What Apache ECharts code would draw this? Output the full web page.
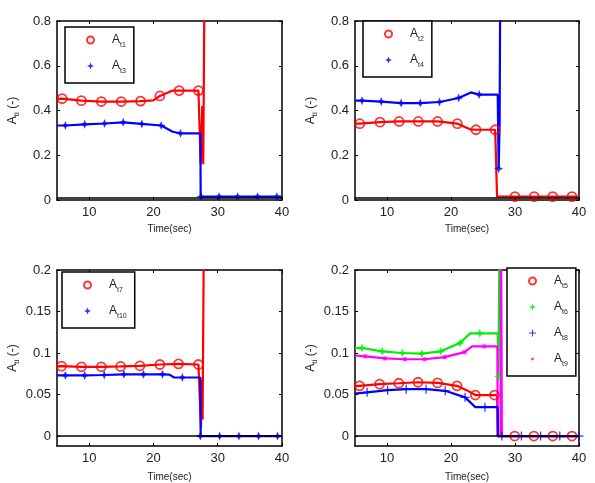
<!DOCTYPE html>
<html>
<head>
<meta charset="utf-8">
<script src="https://cdn.jsdelivr.net/npm/echarts@6/dist/echarts.min.js"></script>
<style>
  html, body { margin: 0; padding: 0; background: #fff; }
  #chart { width: 595px; height: 483px; }
</style>
</head>
<body>
<div id="chart"></div>
<script>
// tick labels
const xTicks = [10, 20, 30, 40];
const yTicksTop = [0, 0.2, 0.4, 0.6, 0.8];
const yTicksBottom = [0, 0.05, 0.1, 0.15, 0.2];

// panel 1: At1 (red o) / At3 (blue *)
const at1Line = [[5,0.452],[5.8,0.453],[8.8,0.444],[11.9,0.44],[15,0.44],[18,0.442],[20,0.445],[21,0.465],[23,0.489],[24,0.489],[27,0.489],[27.3,0.489],[27.35,0.16],[27.6,0.42],[27.75,0.16],[27.95,1.0]];
const at1Mark = [[5.8,0.453],[8.8,0.444],[11.9,0.44],[15,0.44],[18,0.442],[21,0.465],[24,0.489],[27,0.489]];
const at3Line = [[5,0.333],[6.3,0.333],[9.3,0.338],[12.4,0.342],[15.3,0.347],[18.2,0.34],[21.2,0.333],[23,0.305],[24.2,0.298],[27.3,0.298],[27.35,0.015],[40,0.015]];
const at3Mark = [[6.3,0.333],[9.3,0.338],[12.4,0.342],[15.3,0.347],[18.2,0.34],[21.2,0.333],[24.2,0.298],[27.4,0.015],[30.2,0.015],[33.1,0.015],[36.2,0.015],[39.2,0.015]];

// panel 2: At2 (red o) / At4 (blue *)
const at2Line = [[5,0.341],[5.75,0.341],[8.9,0.348],[11.9,0.351],[14.9,0.351],[17.9,0.351],[21,0.341],[23,0.316],[23.9,0.314],[26.9,0.314],[27.15,0.314],[27.2,0.015],[40,0.015]];
const at2Mark = [[5.75,0.341],[8.9,0.348],[11.9,0.351],[14.9,0.351],[17.9,0.351],[21,0.341],[23.9,0.314],[26.9,0.314],[30,0.015],[33,0.015],[35.9,0.015],[38.9,0.015]];
const at4Line = [[5,0.444],[6.1,0.444],[9.1,0.44],[12.2,0.433],[15.2,0.433],[18.2,0.438],[21.2,0.456],[23.1,0.481],[24.4,0.471],[27.3,0.471],[27.45,0.14],[27.6,0.35],[27.7,1.0]];
const at4Mark = [[6.1,0.444],[9.1,0.44],[12.2,0.433],[15.2,0.433],[18.2,0.438],[21.2,0.456],[24.4,0.471],[27.45,0.14]];

// panel 3: At7 (red o) / At10 (blue *)
const at7Line = [[5,0.084],[5.7,0.0842],[8.8,0.0834],[11.9,0.0834],[14.9,0.0838],[17.9,0.0846],[21,0.0862],[23.9,0.087],[27,0.0862],[27.3,0.0862],[27.4,0.01],[27.55,0.068],[27.65,0.02],[27.85,0.25]];
const at7Mark = [[5.7,0.0842],[8.8,0.0834],[11.9,0.0834],[14.9,0.0838],[17.9,0.0846],[21,0.0862],[23.9,0.087],[27,0.0862]];
const at10Line = [[5,0.073],[6.3,0.073],[9.3,0.073],[12.35,0.0735],[15.4,0.0743],[18.45,0.0743],[21.4,0.0743],[22.5,0.074],[23.2,0.0705],[24.5,0.0705],[27.3,0.0705],[27.35,0],[40,0]];
const at10Mark = [[6.3,0.073],[9.3,0.073],[12.35,0.0735],[15.4,0.0743],[18.45,0.0743],[21.4,0.0743],[24.5,0.0705],[27.3,0],[30.3,0],[33.3,0],[36.35,0],[39.3,0]];

// panel 4: At5 (red o) / At6 (green *) / At8 (blue +) / At9 (magenta square)
const at5Line = [[5,0.0605],[5.7,0.0605],[8.85,0.0625],[11.85,0.0636],[14.85,0.0648],[17.9,0.064],[20.94,0.0605],[22.5,0.055],[23.8,0.0494],[26.8,0.0494],[27.2,0.0494],[27.3,0],[40,0]];
const at5Mark = [[5.7,0.0605],[8.85,0.0625],[11.85,0.0636],[14.85,0.0648],[17.9,0.064],[20.94,0.0605],[23.8,0.0494],[26.8,0.0494],[29.95,0],[32.95,0],[35.9,0],[38.9,0]];
const at6Line = [[5,0.106],[6.1,0.106],[9.25,0.102],[12.4,0.1],[15.45,0.0992],[18.4,0.102],[21.4,0.112],[23,0.1237],[24.5,0.1237],[27.3,0.1237],[27.4,0.072],[27.6,0.25]];
const at6Mark = [[6.1,0.106],[9.25,0.102],[12.4,0.1],[15.45,0.0992],[18.4,0.102],[21.4,0.112],[24.5,0.1237],[27.4,0.072]];
const at8Line = [[5,0.051],[6.9,0.0526],[10.1,0.0553],[13,0.0565],[16.1,0.0565],[19.1,0.0545],[22.2,0.0466],[23.8,0.0348],[25.3,0.0348],[27.3,0.0348],[27.35,0],[40,0]];
const at8Mark = [[6.9,0.0526],[10.1,0.0553],[13,0.0565],[16.1,0.0565],[19.1,0.0545],[22.2,0.0466],[25.3,0.0348],[27.95,0],[31,0],[34,0],[37,0],[40,0]];
const at9Line = [[5,0.097],[6.6,0.096],[9.7,0.0935],[12.8,0.0925],[15.9,0.0925],[19,0.095],[22.1,0.101],[23.3,0.108],[25.2,0.108],[27.25,0.108],[27.3,0],[27.75,0],[27.8,0.3],[27.9,0.3],[27.95,0],[40,0]];
const at9Mark = [[6.6,0.096],[9.7,0.0935],[12.8,0.0925],[15.9,0.0925],[19,0.095],[22.1,0.101],[25.2,0.108]];

const RED = '#ff0000', BLUE = '#0000ff', GREEN = '#00ee00', MAG = '#ff00ff';
const FONT = '"Liberation Sans", Arial, sans-serif';
const STAR = 'path://M5,0 L6.5,3.5 L10,5 L6.5,6.5 L5,10 L3.5,6.5 L0,5 L3.5,3.5 Z';
const PLUS = 'path://M4.3,0 L5.7,0 L5.7,4.3 L10,4.3 L10,5.7 L5.7,5.7 L5.7,10 L4.3,10 L4.3,5.7 L0,5.7 L0,4.3 L4.3,4.3 Z';
// small square with empty padding so the legend icon stays small
const SMALL_SQ = 'path://M0,0 L0.01,0 L0,0.01 Z M10,10 L9.99,10 L10,9.99 Z M3.2,3.2 L6.8,3.2 L6.8,6.8 L3.2,6.8 Z';

const grids = [
  {left: 57, top: 21, width: 225, height: 179},
  {left: 355, top: 21, width: 224, height: 179},
  {left: 57, top: 270, width: 225, height: 179},
  {left: 355, top: 270, width: 224, height: 179}
];

const chart = echarts.init(document.getElementById('chart'), null, {renderer: 'canvas'});

let xAxis = [], yAxis = [];
grids.forEach((g, i) => {
  const top = i < 2;
  const yT = top ? yTicksTop : yTicksBottom;
  const lineSt = {show: true, lineStyle: {color: '#000', width: 1.5}};
  xAxis.push({
    type: 'value', gridIndex: i, min: 5, max: 40, position: 'bottom',
    name: 'Time(sec)', nameLocation: 'middle', nameGap: top ? 24 : 26,
    nameTextStyle: {fontSize: 10, color: '#222', fontFamily: FONT},
    axisLine: Object.assign({onZero: false}, lineSt),
    axisTick: {inside: true, length: 3, customValues: xTicks, lineStyle: {color: '#000'}},
    axisLabel: {customValues: xTicks, fontSize: 13, color: '#222', fontFamily: FONT, margin: 6},
    splitLine: {show: false}
  });
  xAxis.push({
    type: 'value', gridIndex: i, min: 5, max: 40, position: 'top',
    axisLine: Object.assign({onZero: false}, lineSt),
    axisTick: {inside: true, length: 3, customValues: xTicks, lineStyle: {color: '#000'}},
    axisLabel: {show: false}, splitLine: {show: false}
  });
  yAxis.push({
    type: 'value', gridIndex: i, min: top ? 0 : -0.012, max: top ? 0.8 : 0.2, position: 'left',
    name: '{a|A}{s|ti}{a| (-)}', nameLocation: 'middle', nameRotate: 90, nameGap: 36,
    nameTextStyle: {color: '#222', fontFamily: FONT, rich: {
      a: {fontSize: 12, color: '#222', fontFamily: FONT, lineHeight: 14},
      s: {fontSize: 8, color: '#222', fontFamily: FONT, verticalAlign: 'bottom', lineHeight: 17}
    }},
    axisLine: Object.assign({onZero: false}, lineSt),
    axisTick: {inside: true, length: 3, customValues: yT, lineStyle: {color: '#000'}},
    axisLabel: {customValues: yT, fontSize: 13, color: '#222', fontFamily: FONT, margin: 6},
    splitLine: {show: false}
  });
  yAxis.push({
    type: 'value', gridIndex: i, min: top ? 0 : -0.012, max: top ? 0.8 : 0.2, position: 'right',
    axisLine: Object.assign({onZero: false}, lineSt),
    axisTick: {inside: true, length: 3, customValues: yT, lineStyle: {color: '#000'}},
    axisLabel: {show: false}, splitLine: {show: false}
  });
});

function lineSeries(name, g, data, color, w) {
  return {
    name: name + '_l', type: 'line', xAxisIndex: g * 2, yAxisIndex: g * 2,
    data: data, showSymbol: false, symbol: 'none', clip: true, z: 3,
    lineStyle: {color: color, width: w || 2.2}, itemStyle: {color: color}
  };
}
function markSeries(name, g, data, color, kind) {
  let s = {
    name: name, type: 'scatter', xAxisIndex: g * 2, yAxisIndex: g * 2, data: data, z: 4
  };
  if (kind === 'o') {
    s.symbol = 'circle'; s.symbolSize = 9;
    s.itemStyle = {color: 'rgba(255,255,255,0)', borderColor: color, borderWidth: 1.8};
  } else if (kind === '*') {
    s.symbol = STAR; s.symbolSize = 9; s.itemStyle = {color: color};
  } else if (kind === '+') {
    s.symbol = PLUS; s.symbolSize = 9; s.itemStyle = {color: color};
  } else {
    s.symbol = 'rect'; s.symbolSize = 4; s.itemStyle = {color: color};
  }
  return s;
}
function zeroLine(g, y) {
  return {
    type: 'line', xAxisIndex: g * 2, yAxisIndex: g * 2, data: [], z: 2,
    markLine: {silent: true, symbol: ['none', 'none'], label: {show: false},
      lineStyle: {color: '#000', width: 1.5, type: 'solid'}, data: [{yAxis: y}]}
  };
}

const series = [
  zeroLine(0, 0.015),
  lineSeries('t1', 0, at1Line, RED), markSeries('t1', 0, at1Mark, RED, 'o'),
  lineSeries('t3', 0, at3Line, BLUE), markSeries('t3', 0, at3Mark, BLUE, '*'),
  zeroLine(1, 0.015),
  lineSeries('t2', 1, at2Line, RED), markSeries('t2', 1, at2Mark, RED, 'o'),
  lineSeries('t4', 1, at4Line, BLUE), markSeries('t4', 1, at4Mark, BLUE, '*'),
  zeroLine(2, 0),
  lineSeries('t7', 2, at7Line, RED), markSeries('t7', 2, at7Mark, RED, 'o'),
  lineSeries('t10', 2, at10Line, BLUE), markSeries('t10', 2, at10Mark, BLUE, '*'),
  zeroLine(3, 0),
  lineSeries('t5', 3, at5Line, RED), markSeries('t5', 3, at5Mark, RED, 'o'),
  lineSeries('t6', 3, at6Line, GREEN), markSeries('t6', 3, at6Mark, GREEN, '*'),
  lineSeries('t9', 3, at9Line, MAG), markSeries('t9', 3, at9Mark, MAG, 's'),
  lineSeries('t8', 3, at8Line, BLUE), markSeries('t8', 3, at8Mark, BLUE, '+')
];

function legend(names, left, top) {
  return {
    data: names.map(n => n === 't9' ? {name: n, icon: SMALL_SQ} : {name: n}),
    orient: 'vertical', left: left, top: top,
    backgroundColor: '#fff', borderColor: '#000', borderWidth: 1.5, borderRadius: 0,
    padding: [7, 8, 8, 21], itemGap: 11, itemWidth: 7, itemHeight: 7, z: 10,
    selectedMode: false,
    formatter: n => '{a|A}{s|' + n + '}',
    textStyle: {padding: [0, 0, 0, 13], rich: {
      a: {fontSize: 12, color: '#222', fontFamily: FONT, lineHeight: 14},
      s: {fontSize: 7, color: '#222', fontFamily: FONT, verticalAlign: 'bottom', lineHeight: 18}
    }}
  };
}

chart.setOption({
  animation: false,
  backgroundColor: '#fff',
  grid: grids.map(g => Object.assign({show: false, containLabel: false}, g)),
  xAxis: xAxis,
  yAxis: yAxis,
  legend: [
    legend(['t1', 't3'], 65, 27),
    legend(['t2', 't4'], 363, 21),
    legend(['t7', 't10'], 62, 272),
    legend(['t5', 't6', 't8', 't9'], 507, 268)
  ],
  series: series
});
</script>
</body>
</html>
